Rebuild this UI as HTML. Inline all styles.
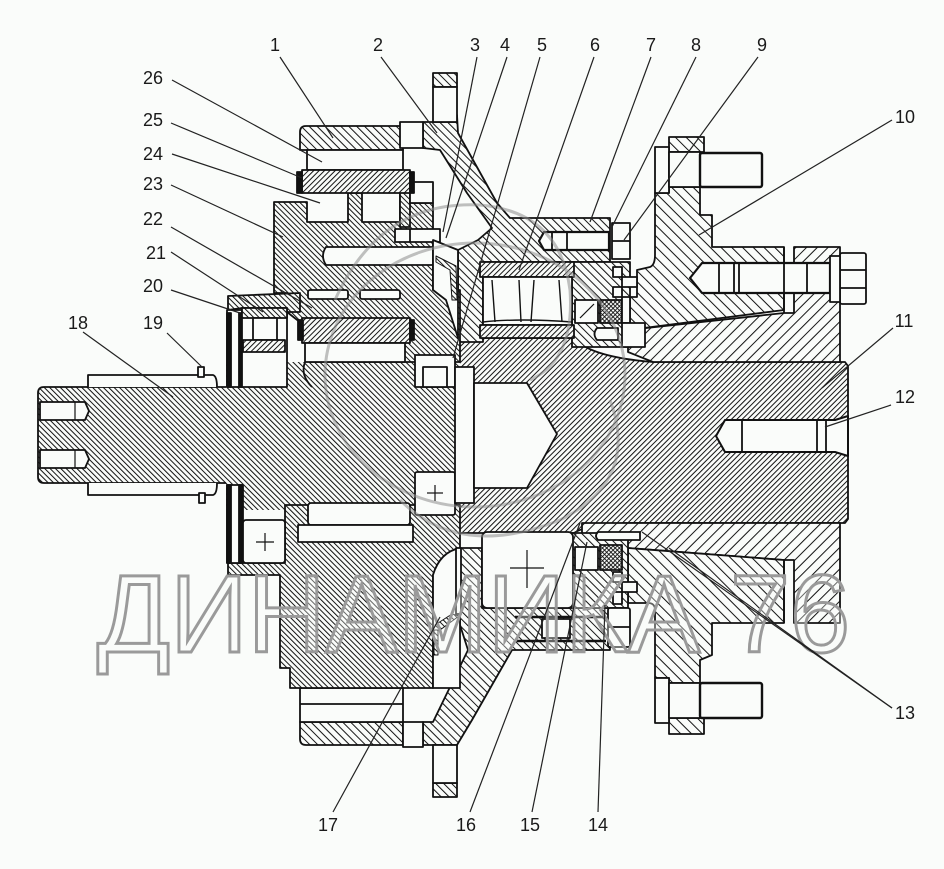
<!DOCTYPE html>
<html><head><meta charset="utf-8">
<style>html,body{margin:0;padding:0;background:#fafcfa;}svg{display:block}</style>
</head><body>
<svg width="944" height="869" viewBox="0 0 944 869" xmlns="http://www.w3.org/2000/svg">
<defs>
<pattern id="d1" width="3.8" height="3.8" patternUnits="userSpaceOnUse" patternTransform="rotate(-45)"><rect width="3.8" height="3.8" fill="#fafcfa"/><line x1="0.5" y1="0" x2="0.5" y2="3.8" stroke="#111" stroke-width="1"/></pattern>
<pattern id="d2" width="3.8" height="3.8" patternUnits="userSpaceOnUse" patternTransform="rotate(45)"><rect width="3.8" height="3.8" fill="#fafcfa"/><line x1="0.5" y1="0" x2="0.5" y2="3.8" stroke="#111" stroke-width="1"/></pattern>
<pattern id="w1" width="5.6" height="5.6" patternUnits="userSpaceOnUse" patternTransform="rotate(-45)"><rect width="5.6" height="5.6" fill="#fafcfa"/><line x1="0.5" y1="0" x2="0.5" y2="5.6" stroke="#111" stroke-width="1"/></pattern>
<pattern id="w2" width="7.6" height="7.6" patternUnits="userSpaceOnUse" patternTransform="rotate(-45)"><rect width="7.6" height="7.6" fill="#fafcfa"/><line x1="0.5" y1="0" x2="0.5" y2="7.6" stroke="#111" stroke-width="1"/></pattern>
<pattern id="w3" width="7.6" height="7.6" patternUnits="userSpaceOnUse" patternTransform="rotate(45)"><rect width="7.6" height="7.6" fill="#fafcfa"/><line x1="0.5" y1="0" x2="0.5" y2="7.6" stroke="#111" stroke-width="1"/></pattern>
<pattern id="xh" width="3" height="3" patternUnits="userSpaceOnUse" patternTransform="rotate(45)"><rect width="3" height="3" fill="#fafcfa"/><line x1="0.5" y1="0" x2="0.5" y2="3" stroke="#111" stroke-width="0.9"/><line x1="0" y1="0.5" x2="3" y2="0.5" stroke="#111" stroke-width="0.9"/></pattern>
</defs>
<rect width="944" height="869" fill="#fafcfa"/>

<g stroke="#111" stroke-width="1.8" stroke-linejoin="round">
<!-- shaft 11 -->
<path d="M455,338 L574,338 Q590,357 653,362 L845,362 L848,366 L848,519 L845,523 L630,523 Q588,524 574,533 L455,533 Z" fill="url(#d2)"/>
<!-- wedges -->
<path d="M628,330 L784,313 L794,313 L794,247 L840,247 L840,362 L653,362 L628,352 Z" fill="url(#w3)"/>
<path d="M582,523 L840,523 L840,623 L794,623 L794,560 L784,560 L628,548 L582,545 Z" fill="url(#w3)"/>
<!-- housing 10 -->
<path d="M655,193 L669,193 L669,187 L700,187 L700,215 L712,215 L712,247 L784,247 L784,310 L628,330 L628,297 L637,297 L637,270 L650,267 Q655,265 655,255 Z" fill="url(#w2)"/>
<rect x="669" y="137" width="35" height="15" fill="url(#w2)"/>
<path d="M628,548 L784,560 L784,623 L712,623 L712,655 L700,660 L700,683 L669,683 L669,678 L655,678 L655,610 Q655,603 648,603 L628,603 Z" fill="url(#w2)"/>
<rect x="669" y="718" width="35" height="16" fill="url(#w2)"/>
<!-- housing 2 upper -->
<path d="M423,122 L457,122 L457,115 L458,133 L497,203 L510,218 L610,218 L610,262 L483,262 L483,342 L458,342 L458,250 L478,240 L492,228 L467,193 L440,150 L423,148 Z" fill="url(#w1)"/>
<rect x="433" y="73" width="24" height="14" fill="url(#w1)"/>
<rect x="433" y="87" width="24" height="35" fill="#fafcfa"/>
<rect x="572" y="262" width="58" height="85" fill="url(#w1)"/>
<!-- housing 2 lower -->
<path d="M460,548 L482,548 L482,608 L610,608 L610,650 L512,650 L472,720 L457,745 L423,745 L423,722 L433,722 L468,650 L460,625 Z" fill="url(#w1)"/>
<rect x="433" y="783" width="24" height="14" fill="url(#w1)"/>
<rect x="433" y="745" width="24" height="38" fill="#fafcfa"/>
<rect x="572" y="533" width="56" height="75" fill="url(#w1)"/>
<!-- ring gear 1 -->
<path d="M306,126 L403,126 L403,150 L300,150 L300,132 Q300,126 306,126 Z" fill="url(#w1)"/>
<rect x="307" y="150" width="96" height="20" fill="#fafcfa"/>
<rect x="400" y="122" width="23" height="26" fill="#fafcfa"/>
<path d="M300,722 L403,722 L403,745 L306,745 Q300,745 300,739 Z" fill="url(#w1)"/>
<rect x="300" y="688" width="103" height="34" fill="#fafcfa"/>
<line x1="300" y1="704" x2="403" y2="704"/>
<rect x="403" y="722" width="20" height="25" fill="#fafcfa"/>
<!-- shaft 18 + carrier core -->
<path d="M38,393 Q38,387 44,387 L227,387 L227,483 L44,483 Q38,483 38,477 Z" fill="url(#d1)"/>
<rect x="226" y="362" width="234" height="148" fill="url(#d1)" stroke="none"/>
<path d="M274,202 L307,202 L307,222 L348,222 L348,193 L362,193 L362,222 L400,222 L400,193 L412,193 L412,203 L433,203 L433,290 L460,290 L460,362 L310,362 L310,330 L287,312 L287,293 L274,293 Z" fill="url(#d1)"/>
<path d="M228,296 L300,293 L300,312 L287,312 L242,308 L228,310 Z" fill="url(#d1)"/>
<path d="M285,505 L460,505 L460,548 Q440,552 433,575 L433,688 L290,688 L290,668 L280,668 L280,575 L228,575 L228,563 L285,563 Z" fill="url(#d1)"/>
<rect x="400" y="175" width="10" height="52" fill="url(#d1)"/>
<rect x="410" y="182" width="23" height="21" fill="#fafcfa"/>
<!-- gear 25 -->
<rect x="302" y="170" width="108" height="23" fill="url(#d2)"/>
<rect x="297" y="172" width="5" height="21" fill="#111"/>
<rect x="410" y="172" width="4" height="21" fill="#111"/>
<!-- planet pin hole -->
<path d="M326,247 L433,247 L433,265 L326,265 Q320,256 326,247 Z" fill="#fafcfa"/>
<rect x="395" y="229" width="45" height="13" fill="#fafcfa"/>
<line x1="410" y1="229" x2="410" y2="242"/>
<rect x="308" y="290" width="40" height="9" rx="2" fill="#fafcfa"/>
<rect x="360" y="290" width="40" height="9" rx="2" fill="#fafcfa"/>
<!-- gear 22 -->
<rect x="302" y="318" width="108" height="25" fill="url(#d2)"/>
<rect x="298" y="320" width="5" height="20" fill="#111"/>
<rect x="410" y="320" width="4" height="20" fill="#111"/>
<rect x="305" y="343" width="100" height="19" fill="#fafcfa"/>
<path d="M305,362 Q300,375 312,387" fill="none"/>
<!-- lower needle -->
<rect x="308" y="503" width="102" height="22" rx="3" fill="#fafcfa"/>
<rect x="298" y="525" width="115" height="17" fill="#fafcfa"/>
<!-- bearing 21 upper -->
<rect x="227" y="310" width="16" height="77" fill="#fafcfa"/>
<rect x="227" y="313" width="4" height="74" fill="#111"/>
<rect x="239" y="313" width="3" height="74" fill="#111"/>
<rect x="242" y="308" width="45" height="79" fill="#fafcfa"/>
<rect x="242" y="308" width="45" height="10" fill="url(#d1)"/>
<rect x="253" y="318" width="24" height="22" fill="#fafcfa"/>
<rect x="243" y="340" width="42" height="12" fill="url(#d2)"/>
<!-- bearing lower-left -->
<rect x="227" y="485" width="16" height="78" fill="#fafcfa"/>
<rect x="227" y="485" width="4" height="78" fill="#111"/>
<rect x="239" y="485" width="3" height="78" fill="#111"/>
<rect x="243" y="520" width="42" height="43" rx="3" fill="#fafcfa"/>
<line x1="256" y1="542" x2="274" y2="542" stroke-width="1.2"/><line x1="265" y1="533" x2="265" y2="551" stroke-width="1.2"/>
<!-- spline -->
<path d="M88,387 L88,375 L213,375 Q217,376 217,387" fill="#fafcfa"/>
<rect x="198" y="367" width="6" height="10" fill="#fafcfa"/>
<path d="M88,483 L88,495 L213,495 Q217,494 217,483" fill="#fafcfa"/>
<rect x="199" y="493" width="6" height="10" fill="#fafcfa"/>
<path d="M40,402 L85,402 L89,411 L85,420 L40,420 Z" fill="#fafcfa"/>
<line x1="75" y1="402" x2="75" y2="420" stroke-width="1.2"/>
<path d="M40,450 L85,450 L89,459 L85,468 L40,468 Z" fill="#fafcfa"/>
<line x1="75" y1="450" x2="75" y2="468" stroke-width="1.2"/>
<!-- hub blocks -->
<rect x="415" y="355" width="40" height="32" fill="#fafcfa"/>
<rect x="423" y="367" width="24" height="20" fill="#fafcfa"/>
<rect x="415" y="472" width="40" height="43" rx="2" fill="#fafcfa"/>
<line x1="427" y1="493" x2="443" y2="493" stroke-width="1.2"/><line x1="435" y1="485" x2="435" y2="501" stroke-width="1.2"/>
<rect x="455" y="367" width="19" height="136" fill="#fafcfa"/>
<path d="M474,383 L527,383 L557,434 L527,488 L474,488 Z" fill="#fafcfa"/>
<!-- seal 4 upper cavity -->
<path d="M433,240 L458,250 L458,338 L446,300 L433,290 Z" fill="#fafcfa"/>
<path d="M436,256 L456,266 L457,300 L452,300 L450,270 L436,262 Z" fill="url(#d1)" stroke-width="1"/>
<!-- lower cavity seal 17 -->
<path d="M433,575 Q440,552 460,548 L460,688 L433,688 Z" fill="#fafcfa"/>
<rect x="456" y="548" width="5" height="66" fill="#fafcfa"/>
<path d="M435,625 L452,614 L459,616 L440,630 Z" fill="url(#d1)" stroke-width="1"/>
<rect x="434" y="630" width="4" height="25" fill="url(#d1)" stroke-width="1"/>
<!-- bearing 6 upper -->
<rect x="480" y="262" width="94" height="15" fill="url(#d2)"/>
<path d="M483,277 L572,277 L572,325 L483,325 Z" fill="#fafcfa"/>
<path d="M492,280 L495,322 M519,280 L521,322 M534,280 L531,322 M559,280 L562,322" fill="none" stroke-width="1.4"/>
<path d="M483,322 Q520,318 572,322" fill="none" stroke-width="1.4"/>
<rect x="480" y="325" width="94" height="13" fill="url(#d2)"/>
<!-- bearing lower -->
<rect x="482" y="532" width="91" height="76" rx="5" fill="#fafcfa"/>
<line x1="510" y1="568" x2="544" y2="568" stroke-width="1.2"/><line x1="527" y1="550" x2="527" y2="588" stroke-width="1.2"/>
<!-- bolts -->
<path d="M544,232 L609,232 L609,250 L544,250 L539,241 Z" fill="#fafcfa" stroke-width="2.2"/>
<line x1="552" y1="232" x2="552" y2="250"/><line x1="567" y1="232" x2="567" y2="250"/>
<rect x="612" y="223" width="18" height="36" fill="#fafcfa"/><line x1="612" y1="241" x2="630" y2="241"/>
<rect x="655" y="147" width="14" height="46" fill="#fafcfa"/>
<rect x="669" y="152" width="31" height="35" fill="#fafcfa"/>
<rect x="700" y="153" width="62" height="34" rx="2" fill="#fafcfa" stroke-width="2.4"/>
<rect x="655" y="678" width="14" height="45" fill="#fafcfa"/>
<rect x="669" y="683" width="31" height="35" fill="#fafcfa"/>
<rect x="700" y="683" width="62" height="35" rx="2" fill="#fafcfa" stroke-width="2.4"/>
<path d="M702,263 L830,263 L830,293 L702,293 L690,278 Z" fill="#fafcfa" stroke-width="2.2"/>
<line x1="719" y1="263" x2="719" y2="293"/><line x1="734" y1="263" x2="734" y2="293"/><line x1="739" y1="263" x2="739" y2="293"/><line x1="807" y1="263" x2="807" y2="293"/>
<rect x="840" y="253" width="26" height="51" rx="2" fill="#fafcfa"/>
<line x1="840" y1="270" x2="866" y2="270"/><line x1="840" y1="288" x2="866" y2="288"/>
<rect x="830" y="256" width="10" height="46" fill="#fafcfa"/>
<rect x="542" y="619" width="28" height="19" fill="#fafcfa"/>
<line x1="515" y1="617" x2="606" y2="617" stroke-width="2.4"/><line x1="515" y1="641" x2="606" y2="641" stroke-width="2.4"/>
<rect x="608" y="608" width="22" height="39" rx="2" fill="#fafcfa"/>
<line x1="608" y1="627" x2="630" y2="627"/>
<!-- seals -->
<rect x="575" y="300" width="23" height="23" fill="#fafcfa"/>
<path d="M580,318 L594,304" fill="none" stroke-width="1.2"/>
<rect x="600" y="300" width="22" height="23" fill="url(#xh)"/>
<rect x="622" y="297" width="8" height="26" fill="#fafcfa"/>
<rect x="613" y="267" width="9" height="10" fill="#fafcfa"/>
<rect x="622" y="277" width="15" height="10" fill="#fafcfa"/>
<rect x="613" y="287" width="9" height="10" fill="#fafcfa"/>
<path d="M597,328 L618,328 L618,340 L597,340 Q592,334 597,328 Z" fill="#fafcfa"/>
<rect x="622" y="323" width="23" height="24" fill="#fafcfa"/>
<rect x="575" y="547" width="23" height="23" fill="#fafcfa"/>
<rect x="600" y="545" width="22" height="25" fill="url(#xh)"/>
<rect x="613" y="572" width="9" height="10" fill="#fafcfa"/>
<rect x="622" y="582" width="15" height="10" fill="#fafcfa"/>
<rect x="613" y="592" width="9" height="12" fill="#fafcfa"/>
<path d="M598,532 L640,532 L640,540 L598,540 Q594,536 598,532 Z" fill="#fafcfa"/>
<!-- hole 12 -->
<path d="M716,436 L725,420 L835,420 L848,416 L848,456 L835,452 L725,452 Z" fill="#fafcfa" stroke-width="2"/>
<line x1="742" y1="420" x2="742" y2="452"/><line x1="817" y1="420" x2="817" y2="452"/><line x1="826" y1="420" x2="826" y2="452"/>
<line x1="784" y1="247" x2="784" y2="313"/>
<line x1="784" y1="560" x2="784" y2="623"/>
</g>

<!-- logo gray curves -->
<g fill="none" stroke="#8e8e8e" stroke-width="3" opacity="0.55">
<ellipse cx="475" cy="375" rx="150" ry="132"/>
<path d="M335,300 Q380,200 480,205 Q560,212 570,290 Q575,360 530,380"/>
<path d="M400,500 Q460,560 560,520 Q640,480 610,400"/>
</g>

<!-- watermark -->
<text x="97" y="652" font-family="Liberation Sans, sans-serif" font-size="110" textLength="753" lengthAdjust="spacingAndGlyphs" fill="rgba(250,252,250,0.35)" stroke="#9a9a9a" stroke-width="3">ДИНАМИКА 76</text>

<!-- leaders -->
<g stroke="#222" stroke-width="1.2" fill="none">
<line x1="280" y1="57" x2="333" y2="138"/>
<line x1="381" y1="57" x2="437" y2="133"/>
<line x1="477" y1="57" x2="443" y2="232"/>
<line x1="507" y1="57" x2="446" y2="238"/>
<line x1="540" y1="57" x2="453" y2="358"/>
<line x1="594" y1="57" x2="519" y2="270"/>
<line x1="651" y1="57" x2="590" y2="222"/>
<line x1="696" y1="57" x2="612" y2="227"/>
<line x1="758" y1="57" x2="624" y2="240"/>
<line x1="892" y1="120" x2="699" y2="235"/>
<line x1="893" y1="328" x2="822" y2="388"/>
<line x1="891" y1="405" x2="825" y2="427"/>
<line x1="892" y1="708" x2="642" y2="532"/>
<line x1="892" y1="708" x2="669" y2="548"/>
<line x1="598" y1="812" x2="605" y2="605"/>
<line x1="532" y1="812" x2="587" y2="542"/>
<line x1="470" y1="812" x2="580" y2="523"/>
<line x1="333" y1="812" x2="440" y2="617"/>
<line x1="83" y1="332" x2="173" y2="397"/>
<line x1="167" y1="333" x2="202" y2="367"/>
<line x1="171" y1="290" x2="240" y2="313"/>
<line x1="171" y1="252" x2="263" y2="312"/>
<line x1="171" y1="227" x2="312" y2="308"/>
<line x1="171" y1="185" x2="283" y2="237"/>
<line x1="172" y1="154" x2="320" y2="203"/>
<line x1="171" y1="123" x2="302" y2="178"/>
<line x1="172" y1="80" x2="322" y2="162"/>
</g>

<g font-family="Liberation Sans, sans-serif" font-size="18" fill="#1a1a1a" text-anchor="middle">
<text x="275" y="51">1</text>
<text x="378" y="51">2</text>
<text x="475" y="51">3</text>
<text x="505" y="51">4</text>
<text x="542" y="51">5</text>
<text x="595" y="51">6</text>
<text x="651" y="51">7</text>
<text x="696" y="51">8</text>
<text x="762" y="51">9</text>
<text x="905" y="123">10</text>
<text x="904" y="327">11</text>
<text x="905" y="403">12</text>
<text x="905" y="719">13</text>
<text x="598" y="831">14</text>
<text x="530" y="831">15</text>
<text x="466" y="831">16</text>
<text x="328" y="831">17</text>
<text x="78" y="329">18</text>
<text x="153" y="329">19</text>
<text x="153" y="292">20</text>
<text x="156" y="259">21</text>
<text x="153" y="225">22</text>
<text x="153" y="190">23</text>
<text x="153" y="160">24</text>
<text x="153" y="126">25</text>
<text x="153" y="84">26</text>
</g>
</svg>
</body></html>
